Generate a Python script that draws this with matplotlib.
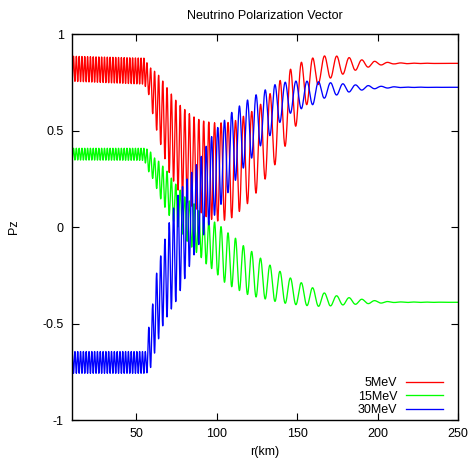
import numpy as np
import matplotlib
matplotlib.use('Agg')
import matplotlib.pyplot as plt

plt.rcParams['font.family'] = ['Liberation Sans', 'DejaVu Sans']
plt.rcParams['axes.unicode_minus'] = False

# oscillation envelopes: r (km), upper and lower turning points
red_r = [10, 55, 58, 61, 64, 67, 70, 73, 76, 80, 84, 88, 93, 99, 105, 110, 118, 124,
         129, 136, 142, 149, 157, 164, 170, 176, 183, 191, 200, 210, 222, 250]
red_hi = [0.885, 0.875, 0.83, 0.81, 0.785, 0.75, 0.71, 0.675, 0.64, 0.61, 0.58, 0.56,
          0.546, 0.54, 0.54, 0.545, 0.58, 0.61, 0.65, 0.72, 0.79, 0.84, 0.87, 0.885,
          0.888, 0.885, 0.877, 0.865, 0.857, 0.851, 0.849, 0.848]
red_lo = [0.755, 0.74, 0.68, 0.55, 0.46, 0.375, 0.29, 0.24, 0.19, 0.14, 0.11, 0.09,
          0.055, 0.03, 0.035, 0.05, 0.11, 0.17, 0.235, 0.32, 0.41, 0.52, 0.65, 0.75,
          0.77, 0.785, 0.805, 0.823, 0.838, 0.845, 0.847, 0.848]

green_r = [10, 55, 58, 61, 64, 67, 70, 73, 76, 79, 82, 86, 90, 94, 99, 103, 107, 112,
           117, 122, 127, 133, 139, 146, 153, 160, 167, 175, 183, 191, 200, 210, 250]
green_hi = [0.408, 0.408, 0.40, 0.36, 0.34, 0.31, 0.28, 0.235, 0.21, 0.166, 0.14, 0.12,
            0.07, 0.036, 0.025, 0.0, -0.03, -0.06, -0.10, -0.128, -0.16, -0.197, -0.228,
            -0.265, -0.29, -0.316, -0.342, -0.357, -0.367, -0.375, -0.383, -0.388, -0.39]
green_lo = [0.347, 0.345, 0.28, 0.24, 0.165, 0.115, 0.065, 0.03, 0.0, -0.04, -0.08,
            -0.12, -0.155, -0.197, -0.23, -0.275, -0.30, -0.32, -0.342, -0.36, -0.365,
            -0.38, -0.39, -0.40, -0.405, -0.41, -0.412, -0.405, -0.402, -0.398, -0.395,
            -0.391, -0.39]

blue_r = [10, 56, 58, 60, 62, 66, 70, 75, 80, 85, 90, 95, 100, 105, 110, 116, 122, 128,
          135, 142, 150, 160, 167, 175, 185, 200, 215, 250]
blue_hi = [-0.645, -0.645, -0.50, -0.41, -0.26, -0.12, 0.01, 0.15, 0.23, 0.29, 0.36,
           0.445, 0.51, 0.555, 0.60, 0.64, 0.675, 0.70, 0.735, 0.75, 0.757, 0.755, 0.75,
           0.745, 0.737, 0.73, 0.725, 0.724]
blue_lo = [-0.758, -0.758, -0.75, -0.70, -0.63, -0.52, -0.45, -0.38, -0.27, -0.16,
           -0.07, 0.01, 0.08, 0.15, 0.22, 0.30, 0.36, 0.43, 0.49, 0.575, 0.605, 0.635,
           0.668, 0.685, 0.705, 0.718, 0.723, 0.724]

# oscillation length (km) read from peak spacing
period_r = [10, 55, 58, 70, 85, 93, 100, 110, 120, 135, 155, 170, 190, 250]
period = [1.75, 1.75, 2.4, 2.7, 2.9, 3.1, 4.0, 4.7, 5.2, 6.2, 7.0, 7.6, 8.0, 8.3]

labels = ['5MeV', '15MeV', '30MeV']
colors = ['#ff0000', '#00ff00', '#0000ff']

r = np.arange(10, 250.001, 0.05)
P = np.interp(r, period_r, period)
phase = np.concatenate([[0], np.cumsum(2 * np.pi / P[1:] * np.diff(r))])
phase -= np.interp(167, r, phase)  # red/green crest, blue trough near 167 km


def curve(rk, hi, lo, sign):
    h = np.interp(r, rk, hi)
    l = np.interp(r, rk, lo)
    return (h + l) / 2 + sign * (h - l) / 2 * np.cos(phase)


fig = plt.figure(figsize=(4.73, 4.61), dpi=100)
ax = fig.add_axes([0.1522, 0.0889, 0.8161, 0.8373])

series = [(red_r, red_hi, red_lo, 1), (green_r, green_hi, green_lo, 1),
          (blue_r, blue_hi, blue_lo, -1)]
for (rk, hi, lo, s), lab, c in zip(series, labels, colors):
    ax.plot(r, curve(rk, hi, lo, s), color=c, lw=0.95, label=lab)

ax.set_xlim(10, 250)
ax.set_ylim(-1, 1)
ax.set_xticks([50, 100, 150, 200, 250])
ax.set_yticks([-1, -0.5, 0, 0.5, 1])
ax.set_yticklabels(['-1', '-0.5', '0', '0.5', '1'])
ax.tick_params(direction='in', top=True, right=True, length=5, width=0.8,
               labelsize=9, pad=6)
for sp in ax.spines.values():
    sp.set_linewidth(1.0)

ax.set_title('Neutrino Polarization Vector', fontsize=9, pad=11)
ax.set_xlabel('r(km)', fontsize=9, labelpad=4)
ax.set_ylabel('Pz', fontsize=9, labelpad=16)

ax.legend(loc='lower right', bbox_to_anchor=(0.975, -0.003), frameon=False,
          markerfirst=False, fontsize=9, handlelength=3.0, handletextpad=0.7,
          labelspacing=0.12, borderaxespad=0.0)

fig.savefig('out.png', dpi=100)
